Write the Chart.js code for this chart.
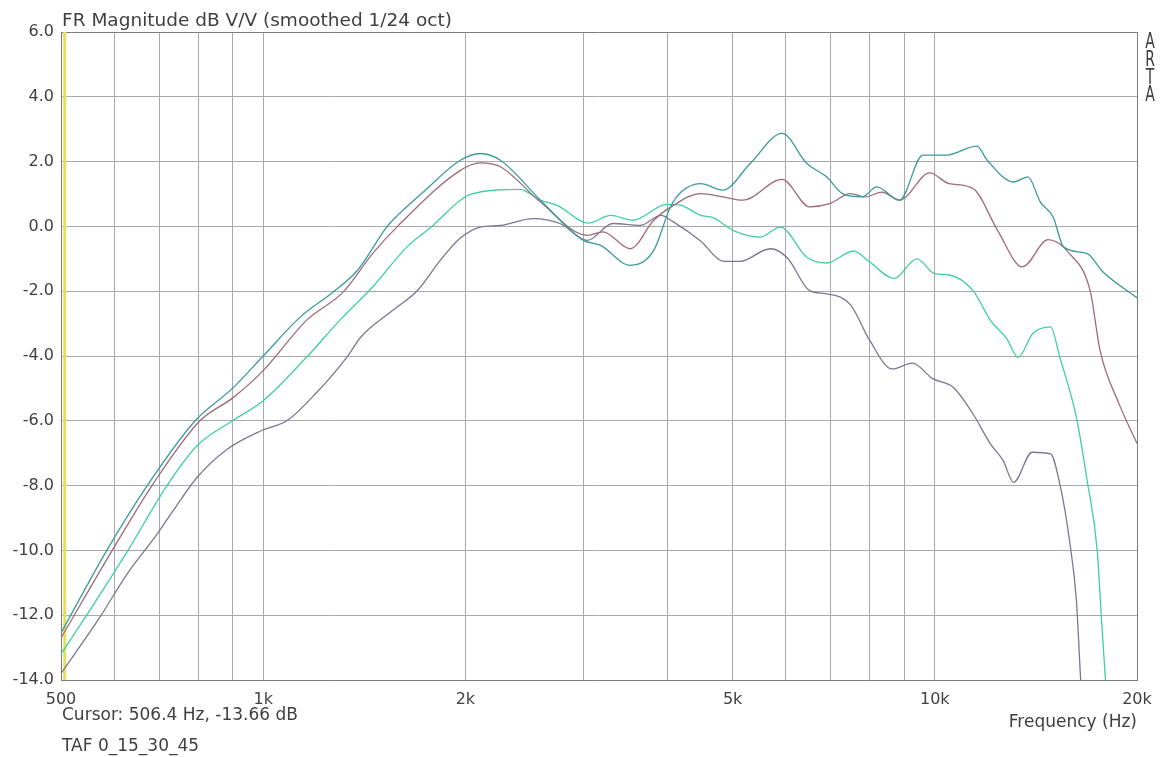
<!DOCTYPE html>
<html>
<head>
<meta charset="utf-8">
<script src="https://cdn.jsdelivr.net/npm/chart.js@4"></script>
<style>
  body { margin: 0; background: #fff; }
  canvas { display: block; }
</style>
</head>
<body>
<canvas id="frChart" width="1164" height="757"></canvas>
<script>
// frequency grid / tick labels
const freqTicks = [500, 600, 700, 800, 900, 1000, 2000, 3000, 4000, 5000, 6000, 7000, 8000, 9000, 10000, 20000];
const freqTickLabels = ['500', '', '', '', '', '1k', '2k', '', '', '5k', '', '', '', '', '10k', '20k'];
const dbTicks = [6, 4, 2, 0, -2, -4, -6, -8, -10, -12, -14];
const dbTickLabels = ['6.0', '4.0', '2.0', '0.0', '-2.0', '-4.0', '-6.0', '-8.0', '-10.0', '-12.0', '-14.0'];

// curve 1 (teal)
const tealFreq = [500, 585, 672, 792, 900, 1000, 1135, 1270, 1381, 1530, 1585, 1731, 1966, 2104, 2255, 2587, 2997, 3175, 3520, 3815, 4040, 4190, 4480, 4835, 5310, 5925, 6450, 6900, 7290, 7800, 8190, 8860, 9600, 10400, 11550, 11970, 13100, 13760, 14360, 15000, 15560, 16860, 17800, 20000];
const tealDb = [-12.55, -10.0, -8.0, -6.0, -5.0, -4.0, -2.8, -2.03, -1.36, 0.0, 0.34, 1.06, 2.04, 2.25, 2.04, 0.81, -0.43, -0.58, -1.2, -0.74, 0.6, 1.06, 1.32, 1.12, 1.94, 2.87, 1.94, 1.53, 1.01, 0.91, 1.22, 0.81, 2.2, 2.2, 2.48, 2.04, 1.37, 1.53, 0.75, 0.29, -0.64, -0.84, -1.41, -2.2];

// curve 2 (maroon)
const maroonFreq = [500, 600, 683, 805, 900, 1000, 1160, 1315, 1455, 1585, 1966, 2104, 2255, 2587, 3040, 3205, 3520, 3815, 4080, 4480, 4835, 5180, 5925, 6510, 6970, 7490, 7880, 8340, 8860, 9830, 10500, 11400, 12400, 13500, 14750, 15870, 17030, 17630, 18800, 20000];
const maroonDb = [-12.7, -9.9, -8.0, -6.0, -5.3, -4.45, -2.9, -2.03, -0.84, 0.0, 1.73, 1.96, 1.84, 0.75, -0.28, -0.17, -0.69, 0.19, 0.65, 1.01, 0.91, 0.81, 1.45, 0.6, 0.7, 1.01, 0.91, 1.06, 0.81, 1.65, 1.32, 1.17, -0.12, -1.25, -0.41, -0.84, -1.98, -3.85, -5.47, -6.7];

// curve 3 (green)
const greenFreq = [500, 546, 629, 719, 797, 900, 1000, 1160, 1300, 1455, 1636, 1790, 1966, 2053, 2410, 2587, 2740, 3050, 3290, 3555, 3990, 4190, 4480, 4675, 5005, 5500, 5885, 6450, 6900, 7570, 8000, 8700, 9400, 10000, 10500, 11400, 12100, 12800, 13300, 14000, 14870, 15350, 16250, 16860, 17450, 17700, 17940, 18100];
const greenDb = [-13.2, -12.0, -10.0, -8.0, -6.77, -6.0, -5.38, -4.04, -2.9, -1.87, -0.64, 0.03, 0.81, 1.01, 1.14, 0.81, 0.65, 0.1, 0.34, 0.19, 0.68, 0.65, 0.34, 0.27, -0.12, -0.33, -0.02, -0.95, -1.13, -0.76, -1.1, -1.61, -1.0, -1.46, -1.5, -1.98, -2.9, -3.47, -4.04, -3.3, -3.1, -4.04, -5.9, -7.85, -10.0, -12.07, -13.93, -15.0];

// curve 4 (purple)
const purpleFreq = [500, 571, 627, 695, 734, 797, 885, 995, 1086, 1202, 1332, 1397, 1560, 1697, 1835, 1966, 2104, 2255, 2522, 2765, 3040, 3315, 3640, 3910, 4080, 4480, 4835, 5125, 5690, 6030, 6510, 6900, 7490, 8000, 8640, 9260, 9930, 10640, 11400, 12100, 12640, 13100, 13960, 14870, 15350, 15870, 16250, 16480, 16600];
const purpleDb = [-13.8, -12.07, -10.73, -9.5, -8.78, -7.75, -6.87, -6.3, -5.99, -5.12, -4.04, -3.42, -2.59, -1.98, -1.05, -0.36, -0.02, 0.03, 0.24, 0.09, -0.43, 0.09, 0.03, 0.34, 0.14, -0.45, -1.07, -1.08, -0.69, -0.97, -1.98, -2.08, -2.42, -3.52, -4.4, -4.22, -4.7, -4.96, -5.79, -6.71, -7.23, -7.9, -6.97, -7.02, -7.95, -9.7, -11.56, -13.93, -15.0];

// cursor marker
const cursorFreq = 506.4;
const cursorDb = -13.66;

const toPoints = (fs, ds) => fs.map((f, i) => ({ x: f, y: ds[i] }));

const textColor = '#404040';
const gridColor = '#a9a9a9';
const frameColor = '#7c7c7c';

const curve = (data, color) => ({
    data: data,
    borderColor: color,
    borderWidth: 1.3,
    pointRadius: 0,
    fill: false,
    cubicInterpolationMode: 'monotone'
});

// extra texts drawn around the plot
const artaText = {
    id: 'artaText',
    afterDraw(chart) {
        const ctx = chart.ctx;
        const area = chart.chartArea;
        ctx.save();
        ctx.fillStyle = textColor;
        ctx.textBaseline = 'alphabetic';
        ctx.textAlign = 'left';
        ctx.font = '18.5px "DejaVu Sans"';
        ctx.fillText('FR Magnitude dB V/V (smoothed 1/24 oct)', area.left + 1, 26);
        ctx.font = '17px "DejaVu Sans"';
        ctx.fillText('Cursor: ' + cursorFreq.toFixed(1) + ' Hz, ' + cursorDb.toFixed(2) + ' dB', area.left + 1, 720);
        ctx.fillText('TAF 0_15_30_45', area.left + 1, 751);
        ctx.textAlign = 'right';
        ctx.fillText('Frequency (Hz)', area.right, 727);
        // vertical ARTA logo
        ctx.textAlign = 'center';
        ctx.font = '14px "DejaVu Sans"';
        ['A', 'R', 'T', 'A'].forEach((ch, i) => {
            ctx.save();
            ctx.translate(1150, 48 + i * 17.8);
            ctx.scale(1, 1.45);
            ctx.fillText(ch, 0, 0);
            ctx.restore();
        });
        ctx.restore();
    }
};

new Chart(document.getElementById('frChart').getContext('2d'), {
    type: 'line',
    data: {
        datasets: [
            curve(toPoints(tealFreq, tealDb), '#3b9a9c'),
            curve(toPoints(maroonFreq, maroonDb), '#a06a78'),
            curve(toPoints(greenFreq, greenDb), '#3fcfa2'),
            curve(toPoints(purpleFreq, purpleDb), '#7d7690'),
            {
                data: [{ x: cursorFreq, y: dbTicks[dbTicks.length - 1] }, { x: cursorFreq, y: dbTicks[0] }],
                borderColor: '#e2e25a',
                borderWidth: 3,
                pointRadius: 0
            }
        ]
    },
    options: {
        responsive: false,
        animation: false,
        devicePixelRatio: 1,
        layout: { padding: { top: 32, right: 27, left: 0, bottom: 0 } },
        plugins: {
            legend: { display: false },
            tooltip: { enabled: false },
            title: { display: false }
        },
        scales: {
            x: {
                type: 'logarithmic',
                min: 500,
                max: 20000,
                afterBuildTicks: scale => {
                    scale.ticks = freqTicks.map(v => ({ value: v }));
                },
                afterFit: scale => { scale.height = 77; },
                ticks: {
                    autoSkip: false,
                    maxRotation: 0,
                    padding: 10,
                    color: textColor,
                    font: { family: 'DejaVu Sans', size: 16 },
                    callback: (v, i) => freqTickLabels[i]
                },
                grid: {
                    drawTicks: false,
                    color: c => (c.tick && c.tick.value === 20000 ? frameColor : gridColor),
                    lineWidth: 1
                },
                border: { display: true, color: frameColor, width: 1 }
            },
            y: {
                min: -14,
                max: 6,
                afterBuildTicks: scale => {
                    scale.ticks = dbTicks.map(v => ({ value: v }));
                },
                afterFit: scale => { scale.width = 61; },
                ticks: {
                    padding: 7,
                    color: textColor,
                    font: { family: 'DejaVu Sans', size: 16 },
                    callback: v => dbTickLabels[dbTicks.indexOf(v)]
                },
                grid: {
                    drawTicks: false,
                    color: c => (c.tick && c.tick.value === 6 ? frameColor : gridColor),
                    lineWidth: 1
                },
                border: { display: true, color: frameColor, width: 1 }
            }
        }
    },
    plugins: [artaText]
});
</script>
</body>
</html>
